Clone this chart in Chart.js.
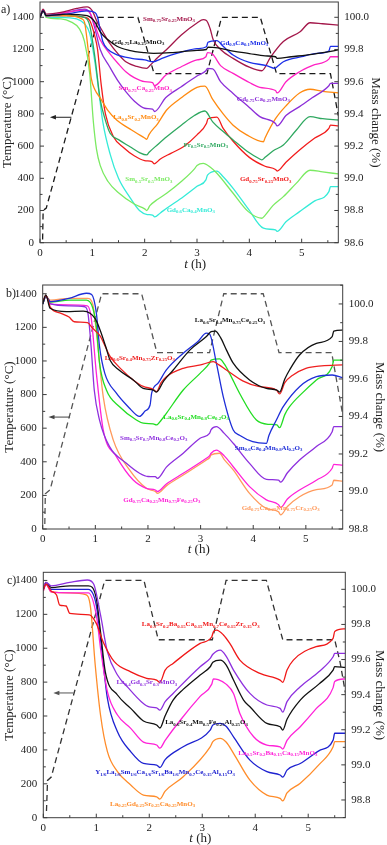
<!DOCTYPE html>
<html>
<head>
<meta charset="utf-8">
<script src="https://cdn.jsdelivr.net/npm/chart.js@4.4.0/dist/chart.umd.min.js"></script>
<style>
  html, body { margin: 0; padding: 0; background: #fff; }
  #wrap { position: relative; width: 387px; height: 845px; }
  canvas { position: absolute; left: 0; }
</style>
</head>
<body>
<div id="wrap">
  <canvas id="cA" width="387" height="280" style="top:0px"></canvas>
  <canvas id="cB" width="387" height="280" style="top:280px"></canvas>
  <canvas id="cC" width="387" height="285" style="top:560px"></canvas>
</div>
<script>
// ---------- panel a) : temperature programme + mass change ----------
const tA_temp = [0.05, 0.06, 0.12, 1.12, 1.87, 2.18, 3.19, 3.47, 4.21, 4.52, 5.55, 5.7];
const TA_temp = [20, 200, 215, 1400, 1400, 1050, 1050, 1400, 1400, 1050, 1050, 790];

const tA_SmSr = [0, 0.06, 0.12, 0.4, 0.7, 0.9, 1.0, 1.08, 1.2, 1.33, 1.5, 1.64, 1.85, 2.04, 2.1, 2.25, 2.42, 2.7, 3.0, 3.12, 3.18, 3.25, 3.31, 3.45, 3.69, 4.0, 4.24, 4.4, 4.65, 4.97, 5.16, 5.4, 5.7];
const mA_SmSr = [100.0, 100.05, 100.02, 100.03, 100.055, 100.065, 100.04, 99.98, 99.91, 99.84, 99.77, 99.724, 99.695, 99.683, 99.70, 99.75, 99.80, 99.89, 99.965, 99.985, 99.98, 99.93, 99.86, 99.80, 99.745, 99.69, 99.668, 99.75, 99.85, 99.91, 99.966, 99.96, 99.952];

const tA_GdLa = [0, 0.06, 0.12, 0.5, 0.9, 1.05, 1.15, 1.3, 1.47, 1.7, 2.0, 2.17, 2.5, 3.0, 3.18, 3.21, 3.4, 3.69, 4.0, 4.3, 4.5, 4.53, 4.8, 5.2, 5.5, 5.7];
const mA_GdLa = [100.0, 100.04, 100.01, 100.02, 100.01, 99.97, 99.91, 99.86, 99.82, 99.795, 99.78, 99.776, 99.78, 99.795, 99.80, 99.815, 99.81, 99.79, 99.775, 99.76, 99.755, 99.745, 99.755, 99.77, 99.785, 99.797];

const tA_GdCa1 = [0, 0.06, 0.12, 0.5, 0.9, 1.05, 1.1, 1.15, 1.2, 1.3, 1.45, 1.75, 2.0, 2.17, 2.3, 2.5, 2.77, 3.0, 3.18, 3.21, 3.38, 3.5, 3.69, 4.0, 4.33, 4.49, 4.52, 4.65, 5.0, 5.29, 5.52, 5.55, 5.7];
const mA_GdCa1 = [100.0, 100.04, 100.01, 100.02, 100.04, 100.03, 100.0, 99.92, 99.85, 99.80, 99.77, 99.745, 99.735, 99.724, 99.74, 99.765, 99.79, 99.805, 99.817, 99.845, 99.855, 99.82, 99.766, 99.72, 99.70, 99.683, 99.69, 99.724, 99.755, 99.776, 99.79, 99.82, 99.82];

const tA_SmCa = [0, 0.06, 0.12, 0.5, 0.85, 0.95, 1.05, 1.15, 1.33, 1.5, 1.64, 1.8, 2.0, 2.15, 2.19, 2.4, 2.7, 3.0, 3.17, 3.2, 3.3, 3.45, 3.69, 4.0, 4.2, 4.5, 4.53, 4.7, 4.96, 5.2, 5.52, 5.55, 5.7];
const mA_SmCa = [100.0, 100.045, 100.01, 100.03, 100.045, 100.03, 99.95, 99.86, 99.776, 99.71, 99.662, 99.625, 99.60, 99.594, 99.575, 99.64, 99.693, 99.735, 99.755, 99.78, 99.77, 99.70, 99.652, 99.595, 99.565, 99.545, 99.53, 99.60, 99.662, 99.70, 99.74, 99.755, 99.755];

const tA_GdCa25 = [0, 0.06, 0.12, 0.5, 0.85, 0.95, 1.05, 1.15, 1.33, 1.5, 1.64, 1.8, 2.0, 2.15, 2.19, 2.4, 2.7, 3.0, 3.17, 3.2, 3.3, 3.45, 3.69, 4.0, 4.2, 4.5, 4.53, 4.7, 4.96, 5.2, 5.52, 5.55, 5.7];
const mA_GdCa25 = [100.0, 100.045, 100.01, 100.03, 100.05, 100.03, 99.93, 99.80, 99.693, 99.60, 99.538, 99.48, 99.435, 99.43, 99.415, 99.50, 99.569, 99.635, 99.668, 99.683, 99.68, 99.60, 99.527, 99.44, 99.383, 99.34, 99.325, 99.39, 99.445, 99.50, 99.575, 99.59, 99.59];

const tA_LaSr = [0, 0.06, 0.12, 0.5, 0.8, 0.85, 0.92, 0.98, 1.05, 1.15, 1.3, 1.47, 1.75, 2.0, 2.04, 2.08, 2.25, 2.42, 2.7, 3.0, 3.15, 3.3, 3.5, 3.69, 3.95, 4.27, 4.3, 4.5, 4.7, 4.96, 5.16, 5.4, 5.7];
const mA_LaSr = [100.0, 100.04, 100.01, 100.01, 99.99, 99.97, 99.80, 99.62, 99.55, 99.50, 99.42, 99.36, 99.30, 99.25, 99.242, 99.27, 99.34, 99.424, 99.50, 99.565, 99.573, 99.49, 99.40, 99.33, 99.27, 99.227, 99.25, 99.37, 99.45, 99.53, 99.553, 99.54, 99.53];

const tA_PrSr = [0, 0.06, 0.12, 0.5, 0.85, 0.95, 1.05, 1.15, 1.25, 1.34, 1.5, 1.72, 1.9, 2.04, 2.08, 2.25, 2.42, 2.7, 2.95, 3.15, 3.3, 3.5, 3.69, 3.95, 4.2, 4.24, 4.3, 4.45, 4.65, 4.9, 5.16, 5.4, 5.7];
const mA_PrSr = [100.0, 100.04, 100.01, 100.01, 100.0, 99.95, 99.75, 99.49, 99.36, 99.28, 99.24, 99.196, 99.16, 99.145, 99.16, 99.21, 99.258, 99.33, 99.39, 99.418, 99.35, 99.29, 99.238, 99.17, 99.12, 99.114, 99.13, 99.17, 99.207, 99.30, 99.383, 99.37, 99.362];

const tA_GdSr = [0, 0.06, 0.12, 0.5, 0.85, 0.95, 1.05, 1.1, 1.17, 1.25, 1.4, 1.6, 1.8, 2.0, 2.14, 2.18, 2.3, 2.5, 2.74, 3.0, 3.18, 3.21, 3.38, 3.5, 3.69, 4.0, 4.3, 4.5, 4.53, 4.7, 4.96, 5.25, 5.52, 5.55, 5.7];
const mA_GdSr = [100.0, 100.04, 100.01, 100.01, 100.0, 99.98, 99.88, 99.80, 99.58, 99.40, 99.26, 99.19, 99.14, 99.11, 99.103, 99.09, 99.12, 99.155, 99.196, 99.27, 99.34, 99.37, 99.38, 99.31, 99.23, 99.13, 99.075, 99.055, 99.045, 99.10, 99.176, 99.25, 99.31, 99.33, 99.325];

const tA_SmSr5 = [0, 0.06, 0.12, 0.4, 0.6, 0.75, 0.85, 0.95, 1.02, 1.08, 1.15, 1.3, 1.5, 1.8, 2.0, 2.04, 2.1, 2.25, 2.42, 2.7, 2.96, 3.0, 3.12, 3.25, 3.38, 3.69, 3.98, 4.24, 4.3, 4.45, 4.65, 4.9, 5.16, 5.4, 5.7];
const mA_SmSr5 = [100.0, 100.04, 100.0, 99.99, 99.97, 99.93, 99.85, 99.65, 99.35, 99.18, 99.08, 98.98, 98.91, 98.84, 98.81, 98.80, 98.83, 98.87, 98.907, 98.98, 99.062, 99.08, 99.093, 99.07, 99.031, 98.907, 98.793, 98.752, 98.77, 98.83, 98.886, 98.97, 99.05, 99.04, 99.027];

const tA_GdCa4 = [0, 0.06, 0.12, 0.4, 0.7, 0.85, 0.95, 1.05, 1.12, 1.2, 1.34, 1.5, 1.72, 1.9, 2.05, 2.15, 2.19, 2.3, 2.42, 2.74, 3.0, 3.17, 3.2, 3.38, 3.5, 3.69, 3.98, 4.27, 4.5, 4.53, 4.7, 4.96, 5.25, 5.52, 5.55, 5.7];
const mA_GdCa4 = [100.0, 100.04, 100.0, 100.0, 99.99, 99.96, 99.90, 99.72, 99.55, 99.35, 99.15, 99.0, 98.88, 98.80, 98.775, 98.772, 98.76, 98.785, 98.814, 98.886, 98.95, 98.99, 99.02, 99.045, 99.01, 98.938, 98.81, 98.69, 98.679, 98.67, 98.73, 98.793, 98.86, 98.917, 98.948, 98.948];

// ---------- panel b) ----------
const tB_temp = [0.04, 0.05, 0.14, 1.12, 1.88, 2.17, 3.17, 3.44, 4.19, 4.49, 5.49, 5.7];
const TB_temp = [30, 210, 233, 1400, 1400, 1050, 1050, 1400, 1400, 1050, 1050, 680];

const tB_Ce25 = [0, 0.06, 0.14, 0.45, 0.77, 0.9, 1.0, 1.09, 1.2, 1.28, 1.45, 1.72, 1.91, 2.1, 2.16, 2.3, 2.48, 2.8, 3.11, 3.2, 3.28, 3.38, 3.49, 3.62, 3.93, 4.25, 4.45, 4.5, 4.6, 4.69, 4.88, 5.2, 5.5, 5.53, 5.7];
const mB_Ce25 = [100.0, 100.048, 99.977, 99.959, 99.962, 99.95, 99.92, 99.861, 99.77, 99.70, 99.648, 99.595, 99.55, 99.541, 99.53, 99.59, 99.648, 99.755, 99.826, 99.852, 99.855, 99.82, 99.755, 99.684, 99.595, 99.55, 99.541, 99.53, 99.60, 99.648, 99.728, 99.79, 99.826, 99.855, 99.861];

const tB_Zr = [0, 0.06, 0.15, 0.35, 0.5, 0.6, 0.85, 0.95, 1.09, 1.28, 1.5, 1.72, 1.91, 2.1, 2.16, 2.25, 2.35, 2.67, 3.0, 3.24, 3.35, 3.49, 3.8, 4.1, 4.44, 4.5, 4.6, 4.75, 5.0, 5.3, 5.7];
const mB_Zr = [100.01, 100.045, 99.98, 99.95, 99.93, 99.905, 99.9, 99.87, 99.83, 99.72, 99.65, 99.595, 99.56, 99.545, 99.532, 99.58, 99.612, 99.657, 99.675, 99.692, 99.675, 99.648, 99.59, 99.56, 99.541, 99.52, 99.58, 99.62, 99.657, 99.67, 99.675];

const tB_Ce20 = [0, 0.06, 0.15, 0.5, 0.83, 0.95, 1.02, 1.08, 1.21, 1.46, 1.78, 1.91, 2.1, 2.16, 2.25, 2.35, 2.67, 2.99, 3.17, 3.2, 3.36, 3.45, 3.55, 3.74, 4.06, 4.3, 4.45, 4.5, 4.6, 4.69, 4.95, 5.2, 5.5, 5.53, 5.7];
const mB_Ce20 = [100.0, 100.04, 100.01, 100.02, 100.02, 99.98, 99.879, 99.684, 99.541, 99.452, 99.381, 99.364, 99.36, 99.355, 99.38, 99.417, 99.541, 99.63, 99.684, 99.70, 99.707, 99.68, 99.63, 99.524, 99.381, 99.358, 99.355, 99.34, 99.41, 99.452, 99.53, 99.595, 99.666, 99.70, 99.70];

const tB_Al = [0, 0.06, 0.15, 0.5, 0.83, 0.93, 1.02, 1.08, 1.18, 1.4, 1.65, 1.78, 1.84, 1.95, 2.04, 2.07, 2.2, 2.35, 2.67, 2.95, 3.11, 3.17, 3.3, 3.43, 3.62, 3.74, 3.99, 4.25, 4.3, 4.44, 4.57, 4.88, 5.2, 5.5, 5.7];
const mB_Al = [100.0, 100.04, 100.012, 100.03, 100.057, 100.05, 99.95, 99.772, 99.63, 99.524, 99.444, 99.408, 99.40, 99.43, 99.461, 99.524, 99.58, 99.648, 99.737, 99.80, 99.844, 99.84, 99.684, 99.506, 99.328, 99.30, 99.266, 99.257, 99.30, 99.381, 99.452, 99.559, 99.612, 99.621, 99.607];

const tB_SmCe = [0, 0.06, 0.15, 0.5, 0.8, 0.86, 0.92, 0.98, 1.08, 1.27, 1.59, 1.84, 2.0, 2.14, 2.18, 2.35, 2.67, 2.99, 3.17, 3.2, 3.3, 3.45, 3.62, 3.93, 4.25, 4.48, 4.52, 4.65, 4.88, 5.2, 5.5, 5.53, 5.7];
const mB_SmCe = [100.0, 100.04, 100.0, 99.99, 99.985, 99.95, 99.772, 99.54, 99.381, 99.239, 99.15, 99.097, 99.08, 99.079, 99.07, 99.13, 99.204, 99.284, 99.31, 99.33, 99.346, 99.31, 99.257, 99.15, 99.065, 99.061, 99.05, 99.10, 99.168, 99.24, 99.319, 99.346, 99.346];

const tB_Fe = [0, 0.06, 0.15, 0.5, 0.85, 0.92, 1.02, 1.15, 1.4, 1.72, 1.97, 2.14, 2.18, 2.35, 2.67, 3.11, 3.17, 3.2, 3.3, 3.45, 3.62, 3.93, 4.25, 4.48, 4.52, 4.65, 4.88, 5.2, 5.5, 5.53, 5.7];
const mB_Fe = [100.0, 100.04, 100.0, 99.995, 99.99, 99.93, 99.63, 99.328, 99.186, 99.061, 99.017, 99.008, 99.0, 99.04, 99.097, 99.177, 99.19, 99.204, 99.221, 99.19, 99.132, 99.026, 98.955, 98.93, 98.915, 98.96, 99.008, 99.06, 99.124, 99.145, 99.14];

const tB_Cr = [0, 0.06, 0.15, 0.5, 0.85, 0.95, 1.02, 1.15, 1.34, 1.65, 1.97, 2.14, 2.18, 2.35, 2.67, 3.11, 3.17, 3.2, 3.36, 3.45, 3.62, 3.93, 4.25, 4.48, 4.52, 4.65, 4.88, 5.2, 5.5, 5.53, 5.7];
const mB_Cr = [100.0, 100.04, 100.02, 100.03, 100.03, 100.0, 99.85, 99.506, 99.275, 99.115, 99.017, 99.0, 98.99, 99.03, 99.088, 99.168, 99.18, 99.195, 99.204, 99.17, 99.115, 98.99, 98.91, 98.892, 98.875, 98.92, 98.972, 99.01, 99.035, 99.06, 99.055];

// ---------- panel c) ----------
const tC_temp = [0.06, 0.08, 0.15, 1.16, 1.9, 2.17, 3.19, 3.45, 4.21, 4.52, 5.5, 5.6, 5.7];
const TC_temp = [40, 220, 240, 1400, 1400, 1050, 1050, 1400, 1400, 1050, 1050, 920, 740];

const tC_CeZr = [0, 0.05, 0.15, 0.25, 0.31, 0.43, 0.5, 0.87, 1.0, 1.13, 1.34, 1.65, 1.95, 2.14, 2.2, 2.3, 2.45, 2.96, 3.18, 3.21, 3.27, 3.4, 3.52, 3.71, 4.09, 4.47, 4.52, 4.6, 4.72, 5.15, 5.47, 5.5, 5.7];
const mC_CeZr = [100.0, 100.03, 99.99, 99.968, 99.91, 99.905, 99.863, 99.855, 99.806, 99.70, 99.588, 99.53, 99.493, 99.483, 99.47, 99.54, 99.578, 99.692, 99.73, 99.758, 99.768, 99.74, 99.692, 99.597, 99.521, 99.483, 99.47, 99.54, 99.597, 99.673, 99.721, 99.76, 99.775];

const tC_LaGd = [0, 0.05, 0.15, 0.5, 0.83, 0.95, 1.08, 1.21, 1.4, 1.6, 1.85, 2.0, 2.14, 2.2, 2.3, 2.45, 2.96, 3.15, 3.2, 3.34, 3.45, 3.59, 3.9, 4.22, 4.47, 4.52, 4.6, 4.85, 5.2, 5.47, 5.5, 5.7];
const mC_LaGd = [100.015, 100.04, 100.02, 100.04, 100.053, 100.03, 99.854, 99.644, 99.512, 99.44, 99.36, 99.33, 99.325, 99.312, 99.36, 99.407, 99.559, 99.607, 99.63, 99.654, 99.62, 99.54, 99.407, 99.341, 99.322, 99.30, 99.36, 99.445, 99.53, 99.616, 99.635, 99.635];

const tC_FeAl = [0, 0.05, 0.15, 0.5, 0.85, 1.0, 1.08, 1.17, 1.4, 1.65, 1.89, 2.14, 2.2, 2.3, 2.45, 2.64, 2.96, 3.15, 3.2, 3.34, 3.45, 3.59, 3.78, 3.9, 4.22, 4.47, 4.52, 4.6, 4.85, 5.2, 5.47, 5.5, 5.7];
const mC_FeAl = [100.0, 100.04, 100.01, 100.02, 100.02, 99.949, 99.758, 99.53, 99.398, 99.322, 99.25, 99.227, 99.21, 99.28, 99.369, 99.43, 99.512, 99.559, 99.585, 99.597, 99.57, 99.483, 99.369, 99.331, 99.236, 99.217, 99.198, 99.26, 99.369, 99.46, 99.54, 99.56, 99.555];

const tC_SrBa = [0, 0.05, 0.15, 0.5, 0.85, 1.0, 1.08, 1.21, 1.4, 1.65, 1.89, 2.14, 2.2, 2.3, 2.6, 2.96, 3.18, 3.21, 3.3, 3.45, 3.59, 3.71, 3.97, 4.22, 4.47, 4.52, 4.6, 4.85, 5.15, 5.47, 5.5, 5.7];
const mC_SrBa = [99.99, 100.03, 99.985, 99.98, 99.98, 99.854, 99.664, 99.417, 99.284, 99.208, 99.13, 99.113, 99.095, 99.14, 99.26, 99.39, 99.46, 99.49, 99.485, 99.46, 99.407, 99.293, 99.16, 99.113, 99.103, 99.09, 99.14, 99.217, 99.32, 99.44, 99.475, 99.49];

const tC_HE = [0, 0.05, 0.15, 0.5, 0.85, 1.0, 1.1, 1.21, 1.4, 1.65, 1.89, 2.14, 2.2, 2.3, 2.64, 3.15, 3.2, 3.34, 3.45, 3.59, 3.9, 4.22, 4.47, 4.52, 4.6, 4.85, 5.2, 5.47, 5.5, 5.7];
const mC_HE = [100.0, 100.03, 100.0, 100.0, 100.0, 99.91, 99.664, 99.379, 99.189, 99.075, 99.008, 98.999, 98.985, 99.03, 99.103, 99.198, 99.227, 99.236, 99.22, 99.16, 99.027, 98.961, 98.942, 98.93, 98.97, 99.008, 99.08, 99.141, 99.18, 99.18];

const tC_GdCa = [0, 0.05, 0.15, 0.5, 0.8, 0.89, 0.98, 1.08, 1.21, 1.4, 1.65, 1.89, 2.14, 2.2, 2.3, 2.64, 3.15, 3.2, 3.34, 3.45, 3.59, 3.9, 4.22, 4.47, 4.52, 4.6, 4.85, 5.2, 5.47, 5.5, 5.7];
const mC_GdCa = [99.99, 100.03, 99.985, 99.98, 99.97, 99.90, 99.569, 99.284, 99.075, 98.961, 98.885, 98.828, 98.818, 98.805, 98.85, 98.932, 99.103, 99.132, 99.151, 99.13, 99.066, 98.913, 98.828, 98.809, 98.795, 98.84, 98.895, 99.0, 99.103, 99.132, 99.132];

const SERIF = "'Liberation Serif', 'Times New Roman', serif";

// формула: цифрите, точките и "/" отиват като индекси
function drawFormula(ctx, text, x, y, color) {
  const parts = text.split(/([0-9.\/]+)/).filter(s => s.length);
  ctx.fillStyle = color;
  ctx.textBaseline = 'middle';
  ctx.textAlign = 'left';
  parts.forEach(p => {
    const isSub = /^[0-9.\/]+$/.test(p);
    ctx.font = isSub ? `bold 4.8px ${SERIF}` : `bold 7px ${SERIF}`;
    ctx.fillText(p, x, isSub ? y + 2 : y);
    x += ctx.measureText(p).width;
  });
}

// рамка, вътрешни чертички, надписи на кривите, стрелка
const decor = {
  id: 'decor',
  afterDatasetsDraw(chart, args, o) {
    const {ctx, chartArea: a} = chart;
    const sx = chart.scales.x, sT = chart.scales.yT, sM = chart.scales.yM;
    ctx.save();
    ctx.strokeStyle = '#3c3c3c';
    ctx.lineWidth = 1;
    ctx.beginPath();
    for (let k = 0; k / 2 <= sx.max; k++) {
      const px = sx.getPixelForValue(k / 2);
      const len = k % 2 === 0 ? 4 : 2.5;
      ctx.moveTo(px, a.bottom); ctx.lineTo(px, a.bottom - len);
    }
    for (let v = 0; v <= sT.max; v += 100) {
      const py = sT.getPixelForValue(v);
      const len = v % 200 === 0 ? 4 : 2.5;
      ctx.moveTo(a.left, py); ctx.lineTo(a.left + len, py);
    }
    for (let k = Math.ceil(sM.min * 10 - 1e-6); k / 10 <= sM.max; k++) {
      const py = sM.getPixelForValue(k / 10);
      const len = k % 2 === 0 ? 4 : 2.5;
      ctx.moveTo(a.right, py); ctx.lineTo(a.right - len, py);
    }
    ctx.stroke();
    ctx.strokeRect(a.left, a.top, a.right - a.left, a.bottom - a.top);

    // стрелка към лявата ос
    const ay = sT.getPixelForValue(o.arrow.T);
    const ax1 = sx.getPixelForValue(o.arrow.t1), ax2 = sx.getPixelForValue(o.arrow.t2);
    ctx.strokeStyle = o.arrow.color;
    ctx.fillStyle = o.arrow.color;
    ctx.beginPath(); ctx.moveTo(ax1 + 3, ay); ctx.lineTo(ax2, ay); ctx.stroke();
    ctx.beginPath(); ctx.moveTo(ax1, ay); ctx.lineTo(ax1 + 6, ay - 2.2); ctx.lineTo(ax1 + 6, ay + 2.2); ctx.closePath(); ctx.fill();

    // надписи на кривите
    o.labels.forEach(l => drawFormula(ctx, l.text, sx.getPixelForValue(l.t), sT.getPixelForValue(l.T), l.color));

    // заглавие на x оста: t (h)
    ctx.fillStyle = '#222';
    ctx.textBaseline = 'middle';
    ctx.textAlign = 'left';
    ctx.font = `italic 13px ${SERIF}`;
    const w1 = ctx.measureText('t').width;
    ctx.font = `13px ${SERIF}`;
    const w2 = ctx.measureText(' (h)').width;
    const x0 = (a.left + a.right) / 2 + 6 - (w1 + w2) / 2;
    ctx.font = `italic 13px ${SERIF}`;
    ctx.fillText('t', x0, o.titleY);
    ctx.font = `13px ${SERIF}`;
    ctx.fillText(' (h)', x0 + w1, o.titleY);

    // буква на панела
    ctx.font = `12px ${SERIF}`;
    ctx.fillText(o.tag, o.tagX, o.tagY);
    ctx.restore();
  }
};

function massSet(ts, ms, color) {
  return {
    data: ts.map((t, i) => ({x: t, y: ms[i]})),
    yAxisID: 'yM',
    borderColor: color,
    borderWidth: 1.3,
    pointRadius: 0,
    cubicInterpolationMode: 'monotone',
    fill: false
  };
}

function tempSet(ts, Ts, color) {
  return {
    data: ts.map((t, i) => ({x: t, y: Ts[i]})),
    yAxisID: 'yT',
    borderColor: color,
    borderWidth: 1.3,
    borderDash: [6, 4],
    pointRadius: 0,
    tension: 0,
    fill: false
  };
}

function makePanel(id, g, datasets, decorOpts) {
  const tickFont = {family: SERIF, size: 11};
  const titleFont = {family: SERIF, size: 13};
  new Chart(document.getElementById(id), {
    type: 'line',
    data: {datasets: datasets},
    plugins: [decor],
    options: {
      animation: false,
      responsive: false,
      devicePixelRatio: 1,
      layout: {padding: {top: g.plotTop, left: 0, right: 0, bottom: 0}},
      plugins: {legend: {display: false}, tooltip: {enabled: false}, decor: decorOpts},
      scales: {
        x: {
          type: 'linear', min: 0, max: 5.7,
          ticks: {stepSize: 1, includeBounds: false, autoSkip: false, maxRotation: 0, padding: 4,
                  color: '#222', font: tickFont, callback: v => String(v)},
          grid: {display: false, drawTicks: false},
          border: {display: false},
          afterFit: s => { s.height = g.height - g.plotBottom; s.paddingLeft = 0; s.paddingRight = 0; }
        },
        yT: {
          position: 'left', min: 0, max: g.Tmax,
          ticks: {stepSize: 200, includeBounds: false, autoSkip: false, padding: 6,
                  color: '#222', font: tickFont, callback: v => String(v)},
          title: {display: true, text: 'Temperature (°C)', color: '#222', font: titleFont,
                  padding: {top: g.ltPad, bottom: 0}},
          grid: {display: false, drawTicks: false},
          border: {display: false},
          afterFit: s => { s.width = g.left; s.paddingTop = 0; s.paddingBottom = 0; }
        },
        yM: {
          position: 'right', min: g.Mmin, max: g.Mmax,
          ticks: {stepSize: 0.2, includeBounds: false, autoSkip: false, padding: 6,
                  color: '#222', font: tickFont, callback: v => Number(v).toFixed(1)},
          title: {display: true, text: 'Mass change (%)', color: '#222', font: titleFont,
                  padding: {top: g.rtPad, bottom: 0}},
          grid: {display: false, drawTicks: false},
          border: {display: false},
          afterFit: s => { s.width = 387 - g.right; s.paddingTop = 0; s.paddingBottom = 0; }
        }
      }
    }
  });
}

// цветове
const cA = {SmSr: '#A3174A', GdLa: '#111111', GdCa1: '#1C2FE8', SmCa: '#FF22C4', GdCa25: '#8C2FD8',
            LaSr: '#FF8A10', PrSr: '#2FA860', GdSr: '#F21C1C', SmSr5: '#7BEA62', GdCa4: '#35EBD8'};
const cB = {Ce25: '#111111', Zr: '#EE2020', Ce20: '#22DD22', Al: '#1E2ED8', SmCe: '#8E30DE', Fe: '#FF22D8', Cr: '#FF9A5C'};
const cC = {CeZr: '#F01818', LaGd: '#8E30DE', FeAl: '#111111', SrBa: '#FF22D8', HE: '#1E22D0', GdCa: '#FF8C2A'};

makePanel('cA',
  {height: 280, left: 40, right: 338.3, plotTop: 2, plotBottom: 242.7, Tmax: 1495, Mmin: 98.6, Mmax: 100.095, ltPad: 0, rtPad: 4},
  [
    massSet(tA_GdLa, mA_GdLa, cA.GdLa),
    massSet(tA_GdCa1, mA_GdCa1, cA.GdCa1),
    massSet(tA_SmSr, mA_SmSr, cA.SmSr),
    massSet(tA_SmCa, mA_SmCa, cA.SmCa),
    massSet(tA_GdCa25, mA_GdCa25, cA.GdCa25),
    massSet(tA_LaSr, mA_LaSr, cA.LaSr),
    massSet(tA_PrSr, mA_PrSr, cA.PrSr),
    massSet(tA_GdSr, mA_GdSr, cA.GdSr),
    massSet(tA_SmSr5, mA_SmSr5, cA.SmSr5),
    massSet(tA_GdCa4, mA_GdCa4, cA.GdCa4),
    tempSet(tA_temp, TA_temp, '#1a1a1a')
  ],
  {
    tag: 'a)', tagX: 1, tagY: 10, titleY: 265,
    arrow: {t1: 0.19, t2: 0.6, T: 779, color: '#222'},
    labels: [
      {text: 'Sm0.75Sr0.25MnO3', t: 1.97, T: 1388, color: cA.SmSr},
      {text: 'Gd0.75La0.25MnO3', t: 1.37, T: 1248, color: cA.GdLa},
      {text: 'Gd0.9Ca0.1MnO3', t: 3.44, T: 1242, color: cA.GdCa1},
      {text: 'Sm0.75Ca0.25MnO3', t: 1.50, T: 959, color: cA.SmCa},
      {text: 'Gd0.75Ca0.25MnO3', t: 3.76, T: 891, color: cA.GdCa25},
      {text: 'La0.8Sr0.2MnO3', t: 1.40, T: 779, color: cA.LaSr},
      {text: 'Pr0.5Sr0.5MnO3', t: 2.74, T: 607, color: cA.PrSr},
      {text: 'Sm0.5Sr0.5MnO3', t: 1.63, T: 394, color: cA.SmSr5},
      {text: 'Gd0.75Sr0.25MnO3', t: 3.82, T: 394, color: cA.GdSr},
      {text: 'Gd0.6Ca0.4MnO3', t: 2.42, T: 203, color: cA.GdCa4}
    ]
  });

makePanel('cB',
  {height: 280, left: 42.7, right: 342.7, plotTop: 5, plotBottom: 249, Tmax: 1452, Mmin: 98.8, Mmax: 100.101, ltPad: 2, rtPad: 0},
  [
    massSet(tB_Ce25, mB_Ce25, cB.Ce25),
    massSet(tB_Zr, mB_Zr, cB.Zr),
    massSet(tB_Al, mB_Al, cB.Al),
    massSet(tB_Ce20, mB_Ce20, cB.Ce20),
    massSet(tB_SmCe, mB_SmCe, cB.SmCe),
    massSet(tB_Fe, mB_Fe, cB.Fe),
    massSet(tB_Cr, mB_Cr, cB.Cr),
    tempSet(tB_temp, TB_temp, '#555555')
  ],
  {
    tag: 'b)', tagX: 6, tagY: 14, titleY: 270,
    arrow: {t1: 0.11, t2: 0.52, T: 666, color: '#444'},
    labels: [
      {text: 'La0.6Sr0.4Mn0.75Ce0.25O3', t: 2.89, T: 1241, color: cB.Ce25},
      {text: 'La0.6Sr0.4Mn0.75Zr0.25O3', t: 1.18, T: 1017, color: cB.Zr},
      {text: 'La0.6Sr0.4Mn0.8Ce0.2O3', t: 2.29, T: 666, color: cB.Ce20},
      {text: 'Sm0.5Sr0.5Mn0.8Ce0.2O3', t: 1.47, T: 541, color: cB.SmCe},
      {text: 'Sm0.6Ca0.4Mn0.8Al0.2O3', t: 3.65, T: 481, color: cB.Al},
      {text: 'Gd0.75Ca0.25Mn0.75Fe0.25O3', t: 1.53, T: 174, color: cB.Fe},
      {text: 'Gd0.75Ca0.25Mn0.75Cr0.25O3', t: 3.78, T: 124, color: cB.Cr}
    ]
  });

makePanel('cC',
  {height: 285, left: 43.3, right: 345.3, plotTop: 12.3, plotBottom: 257.7, Tmax: 1448, Mmin: 98.699, Mmax: 100.097, ltPad: 2, rtPad: 0},
  [
    massSet(tC_CeZr, mC_CeZr, cC.CeZr),
    massSet(tC_LaGd, mC_LaGd, cC.LaGd),
    massSet(tC_FeAl, mC_FeAl, cC.FeAl),
    massSet(tC_SrBa, mC_SrBa, cC.SrBa),
    massSet(tC_HE, mC_HE, cC.HE),
    massSet(tC_GdCa, mC_GdCa, cC.GdCa),
    tempSet(tC_temp, TC_temp, '#333333')
  ],
  {
    tag: 'c)', tagX: 7, tagY: 21, titleY: 279,
    arrow: {t1: 0.19, t2: 0.57, T: 736, color: '#555'},
    labels: [
      {text: 'La0.5Sr0.2Ba0.15Ca0.15Mn0.7Ce0.15Zr0.15O3', t: 1.86, T: 1139, color: cC.CeZr},
      {text: 'La0.4Gd0.3Sr0.3MnO3', t: 1.38, T: 798, color: cC.LaGd},
      {text: 'La0.6Sr0.4Mn0.5Fe0.25Al0.25O3', t: 2.30, T: 562, color: cC.FeAl},
      {text: 'La0.5Sr0.2Ba0.15Ca0.15MnO3', t: 3.68, T: 382, color: cC.SrBa},
      {text: 'Y1/6La1/6Sm1/6Ca1/6Sr1/6Ba1/6Mn0.7Ce0.15Al0.15O3', t: 0.98, T: 267, color: cC.HE},
      {text: 'La0.25Gd0.25Sr0.25Ca0.25MnO3', t: 1.26, T: 81, color: cC.GdCa}
    ]
  });
</script>
</body>
</html>
